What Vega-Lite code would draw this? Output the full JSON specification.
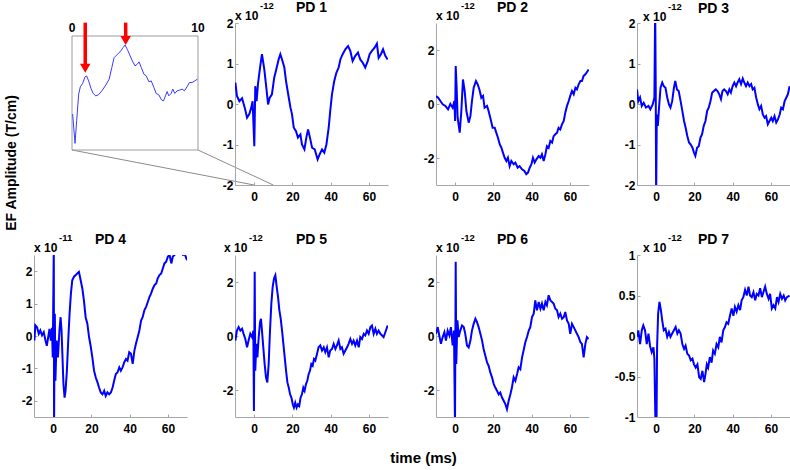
{
  "$schema": "https://vega.github.io/schema/vega-lite/v6.json",
  "background": "white",
  "padding": {"left": 5, "top": 1, "right": 2, "bottom": 2},
  "title": {"text": "EF Amplitude (T/cm)", "orient": "left", "anchor": "middle", "frame": "bounds", "fontSize": 14, "fontWeight": "bold", "font": "Liberation Sans", "color": "#000000", "offset": 2, "dx": 70},
  "config": {
    "font": "Liberation Sans",
    "view": {"stroke": null},
    "title": {"fontSize": 14, "fontWeight": "bold", "font": "Liberation Sans", "color": "#000000", "frame": "group", "offset": -14},
    "axis": {"domainColor": "#a6a6a6", "tickColor": "#a6a6a6", "tickSize": -3, "labelFont": "Liberation Sans", "labelFontSize": 12, "labelFontWeight": "bold", "labelColor": "#000000", "grid": false, "labelOverlap": false, "labelFlush": false, "labelBound": false},
    "axisX": {"labelPadding": 9},
    "axisY": {"labelPadding": 5}
  },
  "datasets": {
    "inset": [{"t":0.05,"v":31.5},{"t":0.24,"v":5.8},{"t":0.37,"v":25.7},{"t":0.53,"v":49},{"t":0.66,"v":55.4},{"t":0.84,"v":58.3},{"t":1.03,"v":64.1},{"t":1.16,"v":65},{"t":1.32,"v":60.6},{"t":1.5,"v":54.2},{"t":1.68,"v":49.6},{"t":1.89,"v":47.5},{"t":2.1,"v":48.4},{"t":2.37,"v":51.9},{"t":2.68,"v":56.9},{"t":2.95,"v":62.1},{"t":3.16,"v":72.3},{"t":3.34,"v":81},{"t":3.61,"v":84},{"t":3.87,"v":86.9},{"t":4.05,"v":89.8},{"t":4.21,"v":92.1},{"t":4.39,"v":88.3},{"t":4.58,"v":83.4},{"t":4.79,"v":78.1},{"t":5.0,"v":73.8},{"t":5.18,"v":75.2},{"t":5.32,"v":77.3},{"t":5.5,"v":72.3},{"t":5.71,"v":66.5},{"t":5.89,"v":65},{"t":6.1,"v":59.8},{"t":6.29,"v":60.6},{"t":6.5,"v":54.8},{"t":6.68,"v":49.6},{"t":6.89,"v":48.4},{"t":7.1,"v":44},{"t":7.26,"v":43.1},{"t":7.42,"v":47.5},{"t":7.55,"v":51.3},{"t":7.68,"v":47.5},{"t":7.87,"v":49.6},{"t":8.0,"v":53.4},{"t":8.16,"v":49.6},{"t":8.34,"v":51.9},{"t":8.53,"v":52.5},{"t":8.74,"v":53.4},{"t":8.92,"v":51.9},{"t":9.13,"v":55.4},{"t":9.32,"v":59.2},{"t":9.53,"v":59.2},{"t":9.74,"v":60.6},{"t":9.95,"v":62.1}],
    "pd1": [{"t":-9.8,"v":0.53},{"t":-9,"v":0.2},{"t":-7.7,"v":0.07},{"t":-6.3,"v":0.14},{"t":-4.9,"v":-0.09},{"t":-3.7,"v":-0.34},{"t":-2.5,"v":-0.25},{"t":-1.5,"v":-0.09},{"t":-0.8,"v":0.07},{"t":0.1,"v":-1.04},{"t":0.6,"v":0.44},{"t":1.3,"v":0.07},{"t":2.0,"v":0.49},{"t":3.1,"v":0.9},{"t":4.1,"v":1.23},{"t":5.3,"v":0.86},{"t":6.4,"v":0.4},{"t":7.3,"v":-0.01},{"t":8.1,"v":0.15},{"t":9.3,"v":0.24},{"t":10.5,"v":0.65},{"t":11.6,"v":0.86},{"t":12.8,"v":1.1},{"t":13.7,"v":1.23},{"t":14.6,"v":1.1},{"t":15.8,"v":0.9},{"t":16.7,"v":0.56},{"t":18.1,"v":0.16},{"t":19,"v":-0.09},{"t":19.8,"v":-0.25},{"t":20.7,"v":-0.58},{"t":21.9,"v":-0.67},{"t":22.9,"v":-0.83},{"t":24.2,"v":-0.75},{"t":25,"v":-1.0},{"t":26.3,"v":-1.12},{"t":27.3,"v":-0.83},{"t":28.2,"v":-0.63},{"t":29.2,"v":-0.83},{"t":30.3,"v":-1.08},{"t":31.7,"v":-1.12},{"t":33.2,"v":-1.37},{"t":34.3,"v":-1.24},{"t":35.5,"v":-1.12},{"t":36.7,"v":-1.2},{"t":37.8,"v":-1.0},{"t":39,"v":-0.58},{"t":39.8,"v":-0.17},{"t":40.7,"v":0.24},{"t":41.9,"v":0.57},{"t":43,"v":0.77},{"t":44.2,"v":0.9},{"t":45.1,"v":1.1},{"t":46.3,"v":1.23},{"t":47.7,"v":1.35},{"t":49.1,"v":1.43},{"t":50.3,"v":1.31},{"t":51.5,"v":1.06},{"t":52.9,"v":1.19},{"t":54.3,"v":1.27},{"t":55.5,"v":1.1},{"t":56.8,"v":1.02},{"t":58.1,"v":0.9},{"t":59.4,"v":1.06},{"t":60.4,"v":1.23},{"t":61.6,"v":1.31},{"t":63,"v":1.39},{"t":64.2,"v":1.49},{"t":65.1,"v":1.14},{"t":66.3,"v":1.23},{"t":67.4,"v":1.35},{"t":68.6,"v":1.19},{"t":69.8,"v":1.1}],
    "pd2": [{"t":-10,"v":0.3},{"t":-8.9,"v":0.23},{"t":-7.7,"v":0.11},{"t":-6.5,"v":-0.01},{"t":-5.1,"v":-0.07},{"t":-3.7,"v":-0.2},{"t":-2.5,"v":0},{"t":-1.3,"v":-0.14},{"t":-0.4,"v":0.11},{"t":0,"v":-0.63},{"t":0.3,"v":1.41},{"t":0.8,"v":0.6},{"t":1.3,"v":-0.5},{"t":2.4,"v":-1.06},{"t":3.25,"v":-0.26},{"t":4.1,"v":0.91},{"t":5.0,"v":0.48},{"t":5.9,"v":-0.26},{"t":7.1,"v":-0.69},{"t":8.0,"v":-0.44},{"t":8.8,"v":0.11},{"t":9.7,"v":0.6},{"t":10.9,"v":0.85},{"t":11.8,"v":0.73},{"t":12.7,"v":0.54},{"t":13.7,"v":0.23},{"t":14.6,"v":0.3},{"t":15.4,"v":-0.14},{"t":16.7,"v":-0.07},{"t":17.5,"v":-0.26},{"t":18.8,"v":-0.63},{"t":19.6,"v":-0.88},{"t":20.7,"v":-0.88},{"t":21.5,"v":-1.06},{"t":22.4,"v":-1.25},{"t":23.3,"v":-1.49},{"t":24.2,"v":-1.62},{"t":25,"v":-1.8},{"t":25.9,"v":-1.99},{"t":26.8,"v":-2.11},{"t":27.6,"v":-1.99},{"t":28.5,"v":-2.3},{"t":29.4,"v":-2.11},{"t":30.6,"v":-2.23},{"t":31.5,"v":-2.17},{"t":32.7,"v":-2.36},{"t":33.7,"v":-2.3},{"t":35,"v":-2.42},{"t":36.2,"v":-2.48},{"t":37.2,"v":-2.6},{"t":38.1,"v":-2.54},{"t":39,"v":-2.36},{"t":39.9,"v":-2.23},{"t":40.7,"v":-1.99},{"t":41.6,"v":-2.17},{"t":42.5,"v":-2.05},{"t":43.7,"v":-1.93},{"t":44.6,"v":-1.99},{"t":45.4,"v":-1.86},{"t":46.3,"v":-2.11},{"t":47.2,"v":-1.86},{"t":48,"v":-1.56},{"t":48.9,"v":-1.62},{"t":49.8,"v":-1.37},{"t":50.7,"v":-1.43},{"t":51.5,"v":-1.19},{"t":52.4,"v":-1.12},{"t":53.3,"v":-1.06},{"t":54.1,"v":-0.88},{"t":55,"v":-0.94},{"t":55.9,"v":-0.75},{"t":56.8,"v":-0.63},{"t":57.6,"v":-0.32},{"t":58.5,"v":-0.07},{"t":59.4,"v":0.11},{"t":60.2,"v":0.3},{"t":61.1,"v":0.48},{"t":62,"v":0.36},{"t":62.9,"v":0.6},{"t":63.7,"v":0.54},{"t":64.6,"v":0.73},{"t":65.5,"v":0.85},{"t":66.3,"v":0.85},{"t":67.2,"v":1.04},{"t":68.1,"v":1.1},{"t":69.3,"v":1.22},{"t":69.8,"v":1.28}],
    "pd3": [{"t":-10,"v":0.36},{"t":-9.3,"v":0.07},{"t":-8.4,"v":0.16},{"t":-7.5,"v":-0.05},{"t":-6.5,"v":0.03},{"t":-5.3,"v":-0.09},{"t":-4,"v":-0.05},{"t":-3,"v":-0.13},{"t":-1.8,"v":-0.01},{"t":-0.9,"v":0.16},{"t":-0.5,"v":2.4},{"t":-0.2,"v":0.4},{"t":0,"v":-2.4},{"t":0.35,"v":-0.26},{"t":0.9,"v":-0.54},{"t":1.4,"v":-0.17},{"t":2.3,"v":0.4},{"t":3.2,"v":0.53},{"t":4,"v":0.44},{"t":4.9,"v":0.4},{"t":5.8,"v":0.16},{"t":6.7,"v":-0.01},{"t":7.5,"v":-0.09},{"t":8.4,"v":0.07},{"t":9.3,"v":0.4},{"t":10,"v":0.57},{"t":10.9,"v":0.36},{"t":11.8,"v":0.32},{"t":12.8,"v":0.07},{"t":13.7,"v":-0.17},{"t":14.6,"v":-0.42},{"t":15.4,"v":-0.58},{"t":16.3,"v":-0.79},{"t":17.2,"v":-0.95},{"t":18.1,"v":-1.0},{"t":19,"v":-1.08},{"t":19.8,"v":-1.2},{"t":20.5,"v":-1.28},{"t":21.4,"v":-1.08},{"t":22.3,"v":-1.04},{"t":23.2,"v":-0.83},{"t":24,"v":-0.75},{"t":24.9,"v":-0.54},{"t":25.8,"v":-0.42},{"t":26.7,"v":-0.17},{"t":27.5,"v":-0.09},{"t":28.4,"v":0.07},{"t":29.3,"v":0.28},{"t":30.2,"v":0.32},{"t":31.2,"v":0.36},{"t":32.1,"v":0.32},{"t":33,"v":0.24},{"t":33.9,"v":0.12},{"t":34.7,"v":0.32},{"t":35.6,"v":0.36},{"t":36.5,"v":0.32},{"t":37.4,"v":0.24},{"t":38.3,"v":0.36},{"t":39.1,"v":0.28},{"t":40,"v":0.44},{"t":40.9,"v":0.53},{"t":41.8,"v":0.44},{"t":42.6,"v":0.53},{"t":43.5,"v":0.61},{"t":44.4,"v":0.49},{"t":45.3,"v":0.63},{"t":46.1,"v":0.53},{"t":47,"v":0.44},{"t":47.9,"v":0.53},{"t":48.8,"v":0.44},{"t":49.7,"v":0.49},{"t":50.5,"v":0.36},{"t":51.4,"v":0.4},{"t":52.3,"v":0.16},{"t":53.2,"v":-0.01},{"t":54,"v":-0.13},{"t":54.9,"v":-0.05},{"t":55.8,"v":-0.26},{"t":56.7,"v":-0.34},{"t":57.5,"v":-0.3},{"t":58.4,"v":-0.5},{"t":59.3,"v":-0.42},{"t":60.2,"v":-0.34},{"t":61,"v":-0.42},{"t":61.9,"v":-0.3},{"t":62.8,"v":-0.46},{"t":63.7,"v":-0.38},{"t":64.6,"v":-0.26},{"t":65.4,"v":-0.09},{"t":66.3,"v":-0.13},{"t":67.2,"v":0.07},{"t":68.1,"v":0.16},{"t":68.9,"v":0.24},{"t":69.8,"v":0.44}],
    "pd4": [{"t":-9.8,"v":-0.14},{"t":-9.3,"v":0.33},{"t":-8.4,"v":0.27},{"t":-7.5,"v":0.07},{"t":-6.7,"v":0.17},{"t":-5.8,"v":0.02},{"t":-4.9,"v":0.12},{"t":-4,"v":-0.14},{"t":-3.3,"v":-0.3},{"t":-2.6,"v":-0.04},{"t":-1.9,"v":0.22},{"t":-1.2,"v":-0.14},{"t":-0.6,"v":0.25},{"t":-0.2,"v":-0.66},{"t":0.1,"v":1.2},{"t":0.35,"v":2.8},{"t":0.5,"v":-2.8},{"t":0.7,"v":-0.5},{"t":0.9,"v":0.69},{"t":1.2,"v":-1.38},{"t":1.8,"v":-0.14},{"t":2.5,"v":-0.66},{"t":3.3,"v":0.17},{"t":3.9,"v":0.58},{"t":4.4,"v":0.17},{"t":4.9,"v":-0.66},{"t":5.4,"v":-1.49},{"t":6,"v":-1.9},{"t":6.5,"v":-1.69},{"t":7.2,"v":-1.07},{"t":7.9,"v":-0.14},{"t":8.6,"v":0.69},{"t":9.3,"v":1.31},{"t":10,"v":1.72},{"t":10.9,"v":1.83},{"t":11.8,"v":1.88},{"t":12.6,"v":1.93},{"t":13.5,"v":1.98},{"t":14.4,"v":1.72},{"t":15.3,"v":1.46},{"t":16.1,"v":1.1},{"t":17,"v":0.58},{"t":17.9,"v":0.38},{"t":18.8,"v":-0.04},{"t":19.6,"v":-0.3},{"t":20.5,"v":-0.66},{"t":21.4,"v":-1.07},{"t":22.3,"v":-1.28},{"t":23.2,"v":-1.43},{"t":24,"v":-1.59},{"t":24.9,"v":-1.74},{"t":25.8,"v":-1.8},{"t":26.7,"v":-1.69},{"t":27.5,"v":-1.85},{"t":28.4,"v":-1.74},{"t":29.3,"v":-1.8},{"t":30.2,"v":-1.74},{"t":31.1,"v":-1.59},{"t":31.9,"v":-1.38},{"t":32.8,"v":-1.17},{"t":33.7,"v":-1.12},{"t":34.6,"v":-0.97},{"t":35.4,"v":-1.07},{"t":36.3,"v":-0.97},{"t":37.2,"v":-0.81},{"t":38.1,"v":-0.71},{"t":38.9,"v":-0.76},{"t":39.8,"v":-0.5},{"t":40.7,"v":-0.55},{"t":41.6,"v":-0.86},{"t":42.5,"v":-0.45},{"t":43.3,"v":-0.24},{"t":44.2,"v":-0.04},{"t":45.1,"v":0.17},{"t":46,"v":0.48},{"t":46.8,"v":0.58},{"t":47.7,"v":0.79},{"t":48.6,"v":0.9},{"t":49.5,"v":1.05},{"t":50.4,"v":1.21},{"t":51.2,"v":1.31},{"t":52.1,"v":1.46},{"t":53,"v":1.57},{"t":53.9,"v":1.62},{"t":54.7,"v":1.78},{"t":55.6,"v":1.88},{"t":56.5,"v":1.93},{"t":57.4,"v":2.09},{"t":58.2,"v":2.24},{"t":59.1,"v":2.29},{"t":60,"v":2.45},{"t":60.9,"v":2.5},{"t":61.8,"v":2.24},{"t":62.6,"v":2.45},{"t":63.5,"v":2.5},{"t":64.4,"v":2.65},{"t":66.1,"v":2.65},{"t":67.9,"v":2.5},{"t":68.8,"v":2.53},{"t":70,"v":2.34}],
    "pd5": [{"t":-9.8,"v":-0.17},{"t":-9,"v":0.2},{"t":-8.1,"v":0.33},{"t":-7.2,"v":0.2},{"t":-6.3,"v":0.27},{"t":-5.5,"v":0.08},{"t":-4.6,"v":-0.11},{"t":-3.7,"v":-0.42},{"t":-2.9,"v":-0.17},{"t":-2,"v":0.08},{"t":-1.1,"v":-0.04},{"t":-0.4,"v":0.2},{"t":-0.1,"v":-2.78},{"t":0.3,"v":2.38},{"t":0.6,"v":-1.29},{"t":1.15,"v":-0.29},{"t":1.7,"v":-0.79},{"t":2.4,"v":-0.04},{"t":3.1,"v":0.52},{"t":3.6,"v":0.64},{"t":4.1,"v":0.2},{"t":4.8,"v":-0.42},{"t":5.5,"v":-1.04},{"t":6.2,"v":-1.53},{"t":6.9,"v":-1.72},{"t":7.6,"v":-1.04},{"t":8.3,"v":0.2},{"t":9,"v":1.2},{"t":9.7,"v":1.82},{"t":10.4,"v":2.13},{"t":11.1,"v":2.25},{"t":11.8,"v":1.82},{"t":12.5,"v":1.45},{"t":13.2,"v":0.95},{"t":13.9,"v":0.64},{"t":14.6,"v":0.2},{"t":15.3,"v":-0.29},{"t":16,"v":-0.79},{"t":16.7,"v":-1.29},{"t":17.4,"v":-1.72},{"t":18.1,"v":-1.91},{"t":18.8,"v":-2.16},{"t":19.5,"v":-2.28},{"t":20.2,"v":-2.53},{"t":20.8,"v":-2.65},{"t":21.5,"v":-2.47},{"t":22.2,"v":-2.65},{"t":22.9,"v":-2.53},{"t":23.6,"v":-2.59},{"t":24.3,"v":-2.28},{"t":25,"v":-2.16},{"t":25.7,"v":-1.91},{"t":26.4,"v":-2.03},{"t":27.1,"v":-1.78},{"t":27.8,"v":-1.66},{"t":28.5,"v":-1.41},{"t":29.2,"v":-1.29},{"t":29.9,"v":-1.04},{"t":30.6,"v":-1.1},{"t":31.3,"v":-0.85},{"t":32,"v":-0.91},{"t":32.9,"v":-0.66},{"t":33.7,"v":-0.42},{"t":34.6,"v":-0.35},{"t":35.5,"v":-0.54},{"t":36.4,"v":-0.42},{"t":37.2,"v":-0.6},{"t":38.1,"v":-0.42},{"t":39,"v":-0.79},{"t":39.8,"v":-0.54},{"t":40.7,"v":-0.48},{"t":41.6,"v":-0.29},{"t":42.5,"v":-0.48},{"t":43.3,"v":-0.35},{"t":44.2,"v":-0.17},{"t":45.1,"v":-0.48},{"t":45.9,"v":-0.42},{"t":46.8,"v":-0.66},{"t":47.7,"v":-0.54},{"t":48.6,"v":-0.42},{"t":49.4,"v":-0.29},{"t":50.3,"v":-0.11},{"t":51.2,"v":-0.29},{"t":52,"v":-0.17},{"t":52.9,"v":-0.35},{"t":53.8,"v":-0.17},{"t":54.7,"v":-0.42},{"t":55.5,"v":-0.04},{"t":56.4,"v":-0.11},{"t":57.3,"v":0.08},{"t":58.1,"v":0.02},{"t":59,"v":0.2},{"t":59.9,"v":0.08},{"t":60.8,"v":0.33},{"t":61.6,"v":0.39},{"t":62.5,"v":0.08},{"t":63.4,"v":0.27},{"t":64.2,"v":0.08},{"t":65.1,"v":0.2},{"t":66,"v":0.08},{"t":66.9,"v":0.02},{"t":67.7,"v":-0.04},{"t":68.6,"v":0.14},{"t":69.8,"v":0.39}],
    "pd6": [{"t":-10,"v":0.08},{"t":-9.1,"v":0.33},{"t":-8.3,"v":0.02},{"t":-7.4,"v":-0.29},{"t":-6.5,"v":-0.04},{"t":-5.6,"v":0.14},{"t":-4.8,"v":-0.17},{"t":-3.9,"v":0.2},{"t":-3,"v":0.02},{"t":-2.2,"v":0.33},{"t":-1.3,"v":-0.35},{"t":-0.6,"v":0.2},{"t":-0.07,"v":-3.3},{"t":0.3,"v":2.75},{"t":0.6,"v":-1.04},{"t":1.2,"v":0.58},{"t":1.85,"v":-0.04},{"t":2.7,"v":0.2},{"t":3.6,"v":0.39},{"t":4.5,"v":0.33},{"t":5.3,"v":0.08},{"t":6.2,"v":-0.35},{"t":7.1,"v":-0.42},{"t":8,"v":-0.17},{"t":8.8,"v":0.2},{"t":9.7,"v":0.45},{"t":10.6,"v":0.64},{"t":11.4,"v":0.52},{"t":12.3,"v":0.33},{"t":13.2,"v":0.08},{"t":14.1,"v":-0.17},{"t":14.9,"v":-0.48},{"t":15.8,"v":-0.73},{"t":16.7,"v":-0.98},{"t":17.5,"v":-1.1},{"t":18.4,"v":-1.35},{"t":19.3,"v":-1.53},{"t":20.2,"v":-1.78},{"t":21,"v":-1.91},{"t":21.9,"v":-2.03},{"t":22.8,"v":-2.16},{"t":23.6,"v":-2.09},{"t":24.5,"v":-2.28},{"t":25.4,"v":-2.4},{"t":26.3,"v":-2.53},{"t":27.1,"v":-2.71},{"t":28,"v":-2.4},{"t":28.9,"v":-2.16},{"t":29.7,"v":-1.91},{"t":30.6,"v":-1.53},{"t":31.5,"v":-1.66},{"t":32.4,"v":-1.41},{"t":33.2,"v":-1.16},{"t":34.1,"v":-1.23},{"t":35,"v":-0.79},{"t":35.8,"v":-0.54},{"t":36.7,"v":-0.23},{"t":37.6,"v":-0.04},{"t":38.5,"v":0.2},{"t":39.3,"v":0.33},{"t":40.2,"v":0.7},{"t":41.1,"v":0.83},{"t":41.9,"v":1.32},{"t":42.8,"v":0.95},{"t":43.7,"v":1.26},{"t":44.6,"v":1.01},{"t":45.4,"v":1.2},{"t":46.3,"v":0.95},{"t":47.2,"v":1.26},{"t":48,"v":1.14},{"t":48.9,"v":1.51},{"t":49.8,"v":1.32},{"t":50.7,"v":1.26},{"t":51.5,"v":1.2},{"t":52.4,"v":1.01},{"t":53.3,"v":0.95},{"t":54.1,"v":0.7},{"t":55,"v":0.83},{"t":55.9,"v":0.64},{"t":56.8,"v":0.7},{"t":57.6,"v":0.89},{"t":58.5,"v":0.58},{"t":59.4,"v":0.45},{"t":60.2,"v":0.08},{"t":61.1,"v":0.45},{"t":62,"v":0.33},{"t":62.9,"v":0.2},{"t":63.7,"v":0.08},{"t":64.6,"v":-0.04},{"t":65.5,"v":-0.23},{"t":66.3,"v":-0.29},{"t":67.2,"v":-0.79},{"t":68.1,"v":-0.29},{"t":68.9,"v":-0.04},{"t":69.8,"v":-0.11}],
    "pd7": [{"t":-10,"v":-0.01},{"t":-9.3,"v":0.07},{"t":-8.4,"v":-0.1},{"t":-7.5,"v":0.07},{"t":-6.7,"v":0.13},{"t":-5.8,"v":0.07},{"t":-4.9,"v":-0.1},{"t":-4,"v":0.03},{"t":-3.2,"v":-0.12},{"t":-2.3,"v":-0.2},{"t":-1.4,"v":-0.14},{"t":-0.9,"v":-0.28},{"t":-0.35,"v":-1.1},{"t":0.2,"v":-1.1},{"t":0.5,"v":-0.14},{"t":1.05,"v":0.28},{"t":1.75,"v":0.42},{"t":2.5,"v":0.32},{"t":3.2,"v":0.19},{"t":4,"v":0.07},{"t":4.9,"v":0.09},{"t":5.8,"v":-0.01},{"t":6.7,"v":0.05},{"t":7.5,"v":-0.01},{"t":8.4,"v":0.03},{"t":9.3,"v":0.07},{"t":10.2,"v":0.11},{"t":11.1,"v":0.03},{"t":11.9,"v":0.07},{"t":12.8,"v":0.03},{"t":13.7,"v":-0.1},{"t":14.6,"v":-0.16},{"t":15.4,"v":-0.12},{"t":16.3,"v":-0.22},{"t":17.2,"v":-0.24},{"t":18.1,"v":-0.3},{"t":19,"v":-0.28},{"t":19.8,"v":-0.35},{"t":20.7,"v":-0.39},{"t":21.6,"v":-0.35},{"t":22.5,"v":-0.51},{"t":23.3,"v":-0.53},{"t":24.2,"v":-0.43},{"t":25.1,"v":-0.57},{"t":25.8,"v":-0.47},{"t":26.5,"v":-0.35},{"t":27.2,"v":-0.39},{"t":28.1,"v":-0.26},{"t":29,"v":-0.33},{"t":29.8,"v":-0.18},{"t":30.7,"v":-0.22},{"t":31.6,"v":-0.1},{"t":32.5,"v":-0.14},{"t":33.3,"v":-0.01},{"t":34.2,"v":-0.08},{"t":35.1,"v":0.07},{"t":36,"v":0.11},{"t":36.8,"v":0.17},{"t":37.7,"v":0.15},{"t":38.6,"v":0.25},{"t":39.5,"v":0.34},{"t":40.4,"v":0.25},{"t":41.2,"v":0.36},{"t":42.1,"v":0.3},{"t":43,"v":0.38},{"t":43.9,"v":0.32},{"t":44.7,"v":0.44},{"t":45.6,"v":0.48},{"t":46.5,"v":0.57},{"t":47.4,"v":0.5},{"t":48.3,"v":0.61},{"t":49.1,"v":0.5},{"t":50,"v":0.48},{"t":50.9,"v":0.54},{"t":51.8,"v":0.44},{"t":52.6,"v":0.52},{"t":53.5,"v":0.5},{"t":54.4,"v":0.59},{"t":55.3,"v":0.48},{"t":56.1,"v":0.54},{"t":57,"v":0.61},{"t":57.9,"v":0.52},{"t":58.8,"v":0.46},{"t":59.6,"v":0.52},{"t":60.5,"v":0.34},{"t":61.4,"v":0.38},{"t":62.3,"v":0.34},{"t":63.2,"v":0.48},{"t":64,"v":0.42},{"t":64.9,"v":0.52},{"t":65.8,"v":0.46},{"t":66.7,"v":0.5},{"t":67.5,"v":0.44},{"t":68.4,"v":0.48},{"t":69.8,"v":0.5}]
  },
  "columns": 4,
  "spacing": {"row": 70, "column": 48},
  "bounds": "flush",
  "concat": [
    {
      "width": 153, "height": 162,
      "encoding": {
        "x": {"field": "t", "type": "quantitative", "scale": {"domain": [-3.016, 9.127], "nice": false, "zero": false}, "axis": null},
        "y": {"field": "v", "type": "quantitative", "scale": {"domain": [-30.7, 111.4], "nice": false, "zero": false}, "axis": null}
      },
      "layer": [
        {"data": {"values": [{"t": 0, "v": 0, "t2": 14.45, "v2": -30.7}, {"t": 10, "v": 0, "t2": 15.97, "v2": -30.7}]}, "mark": {"type": "rule", "color": "#8c8c8c", "strokeWidth": 1, "clip": false}, "encoding": {"x2": {"field": "t2"}, "y2": {"field": "v2"}}},
        {"data": {"values": [{"t": 0, "v": 0, "t2": 10, "v2": 100}]}, "mark": {"type": "rect", "filled": false, "stroke": "#9c9c9c", "strokeWidth": 1, "clip": false}, "encoding": {"x2": {"field": "t2"}, "y2": {"field": "v2"}}},
        {"data": {"name": "inset"}, "mark": {"type": "line", "color": "#3a3aff", "strokeWidth": 1, "clip": false}},
        {"data": {"values": [{"t": 1.05, "v": 111.7, "v2": 75.4}, {"t": 4.26, "v": 111.7, "v2": 100}]}, "mark": {"type": "rule", "color": "#ff0000", "strokeWidth": 3.5, "clip": false}, "encoding": {"y2": {"field": "v2"}}},
        {"data": {"values": [{"t": 1.05, "v": 71.7}, {"t": 4.26, "v": 96.1}]}, "mark": {"type": "point", "shape": "triangle-down", "filled": true, "color": "#ff0000", "size": 110, "opacity": 1, "strokeWidth": 0, "clip": false}},
        {"data": {"values": [{"t": 0, "v": 100, "lab": "0"}, {"t": 10, "v": 100, "lab": "10"}]}, "mark": {"type": "text", "align": "center", "baseline": "bottom", "dy": -1, "fontSize": 12, "fontWeight": "bold", "color": "#000000", "clip": false}, "encoding": {"text": {"field": "lab"}}}
      ]
    },
    {
      "width": 153, "height": 162,
      "title": {"text": "PD 1"},
      "layer": [
        {"data": {"name": "pd1"}, "mark": {"type": "line", "color": "#0000ff", "strokeWidth": 2, "clip": true},
         "encoding": {
           "x": {"field": "t", "type": "quantitative", "scale": {"domain": [-10, 70], "nice": false, "zero": false}, "axis": {"values": [0, 20, 40, 60], "title": null, "labelExpr": "toString(datum.value)"}},
           "y": {"field": "v", "type": "quantitative", "scale": {"domain": [-2, 2], "nice": false, "zero": false}, "axis": {"values": [-2, -1, 0, 1, 2], "title": null, "labelExpr": "toString(datum.value)"}}}},
        {"data": {"values": [{"base": "x 10"}]}, "mark": {"type": "text", "align": "left", "baseline": "alphabetic", "fontSize": 12, "fontWeight": "bold", "dx": 0, "dy": -3, "color": "#000000", "clip": false}, "encoding": {"x": {"datum": -10, "type": "quantitative"}, "y": {"datum": 2, "type": "quantitative"}, "text": {"field": "base"}}},
        {"data": {"values": [{"exp": "-12"}]}, "mark": {"type": "text", "align": "left", "baseline": "alphabetic", "fontSize": 9.5, "fontWeight": "bold", "dx": 25, "dy": -14, "color": "#000000", "clip": false}, "encoding": {"x": {"datum": -10, "type": "quantitative"}, "y": {"datum": 2, "type": "quantitative"}, "text": {"field": "exp"}}}
      ]
    },
    {
      "width": 153, "height": 162,
      "title": {"text": "PD 2"},
      "layer": [
        {"data": {"name": "pd2"}, "mark": {"type": "line", "color": "#0000ff", "strokeWidth": 2, "clip": true},
         "encoding": {
           "x": {"field": "t", "type": "quantitative", "scale": {"domain": [-10, 70], "nice": false, "zero": false}, "axis": {"values": [0, 20, 40, 60], "title": null, "labelExpr": "toString(datum.value)"}},
           "y": {"field": "v", "type": "quantitative", "scale": {"domain": [-3, 3], "nice": false, "zero": false}, "axis": {"values": [-2, 0, 2], "title": null, "labelExpr": "toString(datum.value)"}}}},
        {"data": {"values": [{"base": "x 10"}]}, "mark": {"type": "text", "align": "left", "baseline": "alphabetic", "fontSize": 12, "fontWeight": "bold", "dx": 0, "dy": -3, "color": "#000000", "clip": false}, "encoding": {"x": {"datum": -10, "type": "quantitative"}, "y": {"datum": 3, "type": "quantitative"}, "text": {"field": "base"}}},
        {"data": {"values": [{"exp": "-12"}]}, "mark": {"type": "text", "align": "left", "baseline": "alphabetic", "fontSize": 9.5, "fontWeight": "bold", "dx": 25, "dy": -14, "color": "#000000", "clip": false}, "encoding": {"x": {"datum": -10, "type": "quantitative"}, "y": {"datum": 3, "type": "quantitative"}, "text": {"field": "exp"}}}
      ]
    },
    {
      "width": 153, "height": 162,
      "title": {"text": "PD 3"},
      "layer": [
        {"data": {"name": "pd3"}, "mark": {"type": "line", "color": "#0000ff", "strokeWidth": 2, "clip": true},
         "encoding": {
           "x": {"field": "t", "type": "quantitative", "scale": {"domain": [-10, 70], "nice": false, "zero": false}, "axis": {"values": [0, 20, 40, 60], "title": null, "labelExpr": "toString(datum.value)"}},
           "y": {"field": "v", "type": "quantitative", "scale": {"domain": [-2, 2], "nice": false, "zero": false}, "axis": {"values": [-2, -1, 0, 1, 2], "title": null, "labelExpr": "toString(datum.value)"}}}},
        {"data": {"values": [{"base": "x 10"}]}, "mark": {"type": "text", "align": "left", "baseline": "alphabetic", "fontSize": 12, "fontWeight": "bold", "dx": 6, "dy": -2, "color": "#000000", "clip": false}, "encoding": {"x": {"datum": -10, "type": "quantitative"}, "y": {"datum": 2, "type": "quantitative"}, "text": {"field": "base"}}},
        {"data": {"values": [{"exp": "-12"}]}, "mark": {"type": "text", "align": "left", "baseline": "alphabetic", "fontSize": 9.5, "fontWeight": "bold", "dx": 31, "dy": -13, "color": "#000000", "clip": false}, "encoding": {"x": {"datum": -10, "type": "quantitative"}, "y": {"datum": 2, "type": "quantitative"}, "text": {"field": "exp"}}}
      ]
    },
    {
      "width": 153, "height": 162,
      "title": {"text": "PD 4"},
      "layer": [
        {"data": {"name": "pd4"}, "mark": {"type": "line", "color": "#0000ff", "strokeWidth": 2, "clip": true},
         "encoding": {
           "x": {"field": "t", "type": "quantitative", "scale": {"domain": [-10, 70], "nice": false, "zero": false}, "axis": {"values": [0, 20, 40, 60], "title": null, "labelExpr": "toString(datum.value)"}},
           "y": {"field": "v", "type": "quantitative", "scale": {"domain": [-2.5, 2.5], "nice": false, "zero": false}, "axis": {"values": [-2, -1, 0, 1, 2], "title": null, "labelExpr": "toString(datum.value)"}}}},
        {"data": {"values": [{"base": "x 10"}]}, "mark": {"type": "text", "align": "left", "baseline": "alphabetic", "fontSize": 12, "fontWeight": "bold", "dx": 0, "dy": -3, "color": "#000000", "clip": false}, "encoding": {"x": {"datum": -10, "type": "quantitative"}, "y": {"datum": 2.5, "type": "quantitative"}, "text": {"field": "base"}}},
        {"data": {"values": [{"exp": "-11"}]}, "mark": {"type": "text", "align": "left", "baseline": "alphabetic", "fontSize": 9.5, "fontWeight": "bold", "dx": 25, "dy": -14, "color": "#000000", "clip": false}, "encoding": {"x": {"datum": -10, "type": "quantitative"}, "y": {"datum": 2.5, "type": "quantitative"}, "text": {"field": "exp"}}}
      ]
    },
    {
      "width": 153, "height": 162,
      "title": {"text": "PD 5"},
      "layer": [
        {"data": {"name": "pd5"}, "mark": {"type": "line", "color": "#0000ff", "strokeWidth": 2, "clip": true},
         "encoding": {
           "x": {"field": "t", "type": "quantitative", "scale": {"domain": [-10, 70], "nice": false, "zero": false}, "axis": {"values": [0, 20, 40, 60], "title": "time (ms)", "titleX": 188, "titleY": 33, "titleAlign": "center", "titleBaseline": "top", "titleFontSize": 15, "titleFontWeight": "bold", "titleFont": "Liberation Sans", "titleColor": "#000000", "labelExpr": "toString(datum.value)"}},
           "y": {"field": "v", "type": "quantitative", "scale": {"domain": [-3, 3], "nice": false, "zero": false}, "axis": {"values": [-2, 0, 2], "title": null, "labelExpr": "toString(datum.value)"}}}},
        {"data": {"values": [{"base": "x 10"}]}, "mark": {"type": "text", "align": "left", "baseline": "alphabetic", "fontSize": 12, "fontWeight": "bold", "dx": -11, "dy": -3, "color": "#000000", "clip": false}, "encoding": {"x": {"datum": -10, "type": "quantitative"}, "y": {"datum": 3, "type": "quantitative"}, "text": {"field": "base"}}},
        {"data": {"values": [{"exp": "-12"}]}, "mark": {"type": "text", "align": "left", "baseline": "alphabetic", "fontSize": 9.5, "fontWeight": "bold", "dx": 14, "dy": -14, "color": "#000000", "clip": false}, "encoding": {"x": {"datum": -10, "type": "quantitative"}, "y": {"datum": 3, "type": "quantitative"}, "text": {"field": "exp"}}}
      ]
    },
    {
      "width": 153, "height": 162,
      "title": {"text": "PD 6"},
      "layer": [
        {"data": {"name": "pd6"}, "mark": {"type": "line", "color": "#0000ff", "strokeWidth": 2, "clip": true},
         "encoding": {
           "x": {"field": "t", "type": "quantitative", "scale": {"domain": [-10, 70], "nice": false, "zero": false}, "axis": {"values": [0, 20, 40, 60], "title": null, "labelExpr": "toString(datum.value)"}},
           "y": {"field": "v", "type": "quantitative", "scale": {"domain": [-3, 3], "nice": false, "zero": false}, "axis": {"values": [-2, 0, 2], "title": null, "labelExpr": "toString(datum.value)"}}}},
        {"data": {"values": [{"base": "x 10"}]}, "mark": {"type": "text", "align": "left", "baseline": "alphabetic", "fontSize": 12, "fontWeight": "bold", "dx": 0, "dy": -3, "color": "#000000", "clip": false}, "encoding": {"x": {"datum": -10, "type": "quantitative"}, "y": {"datum": 3, "type": "quantitative"}, "text": {"field": "base"}}},
        {"data": {"values": [{"exp": "-12"}]}, "mark": {"type": "text", "align": "left", "baseline": "alphabetic", "fontSize": 9.5, "fontWeight": "bold", "dx": 25, "dy": -14, "color": "#000000", "clip": false}, "encoding": {"x": {"datum": -10, "type": "quantitative"}, "y": {"datum": 3, "type": "quantitative"}, "text": {"field": "exp"}}}
      ]
    },
    {
      "width": 153, "height": 162,
      "title": {"text": "PD 7"},
      "layer": [
        {"data": {"name": "pd7"}, "mark": {"type": "line", "color": "#0000ff", "strokeWidth": 2, "clip": true},
         "encoding": {
           "x": {"field": "t", "type": "quantitative", "scale": {"domain": [-10, 70], "nice": false, "zero": false}, "axis": {"values": [0, 20, 40, 60], "title": null, "labelExpr": "toString(datum.value)"}},
           "y": {"field": "v", "type": "quantitative", "scale": {"domain": [-1, 1], "nice": false, "zero": false}, "axis": {"values": [-1, -0.5, 0, 0.5, 1], "title": null, "labelExpr": "toString(datum.value)"}}}},
        {"data": {"values": [{"base": "x 10"}]}, "mark": {"type": "text", "align": "left", "baseline": "alphabetic", "fontSize": 12, "fontWeight": "bold", "dx": 6, "dy": -3, "color": "#000000", "clip": false}, "encoding": {"x": {"datum": -10, "type": "quantitative"}, "y": {"datum": 1, "type": "quantitative"}, "text": {"field": "base"}}},
        {"data": {"values": [{"exp": "-12"}]}, "mark": {"type": "text", "align": "left", "baseline": "alphabetic", "fontSize": 9.5, "fontWeight": "bold", "dx": 31, "dy": -14, "color": "#000000", "clip": false}, "encoding": {"x": {"datum": -10, "type": "quantitative"}, "y": {"datum": 1, "type": "quantitative"}, "text": {"field": "exp"}}}
      ]
    }
  ]
}
